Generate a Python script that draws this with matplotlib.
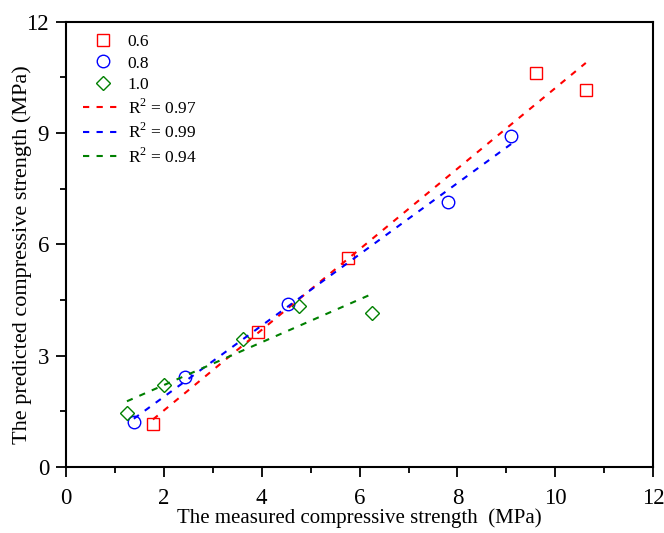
import numpy as np
import matplotlib.pyplot as plt
from matplotlib.ticker import MultipleLocator

plt.rcParams['font.family'] = ['Liberation Serif', 'DejaVu Serif']
plt.rcParams['mathtext.fontset'] = 'custom'
plt.rcParams['mathtext.rm'] = 'Liberation Serif'

# measured vs predicted strength (MPa)
x06 = [1.78, 3.92, 5.77, 9.61, 10.62]
y06 = [1.15, 3.65, 5.62, 10.62, 10.15]
x08 = [1.39, 2.43, 4.53, 7.80, 9.10]
y08 = [1.20, 2.42, 4.40, 7.15, 8.92]
x10 = [1.25, 2.00, 3.61, 4.77, 6.26]
y10 = [1.45, 2.20, 3.45, 4.33, 4.15]

groups = ['0.6', '0.8', '1.0']
r2 = ['0.97', '0.99', '0.94']
colors = ['red', 'blue', 'green']
markers = ['s', 'o', 'D']
msizes = [8, 9, 7.5]

fig = plt.figure(figsize=(6.64, 5.33), dpi=100)
ax = fig.add_axes([0.099, 0.124, 0.885, 0.835])

data = [(x06, y06), (x08, y08), (x10, y10)]
pts = []
for (x, y), c, m, ms, g in zip(data, colors, markers, msizes, groups):
    h, = ax.plot(x, y, linestyle='none', marker=m, ms=ms, mfc='none', mec=c, mew=1.0, label=g)
    pts.append(h)

fits = []
for (x, y), c, r in zip(data, colors, r2):
    k, b = np.polyfit(x, y, 1)
    xx = np.array([min(x), max(x)])
    h, = ax.plot(xx, k * xx + b, color=c, lw=1.5, dashes=(3, 3.5), label='R$^2$ = ' + r)
    fits.append(h)

ax.set_xlim(0, 12)
ax.set_ylim(0, 12)
ax.xaxis.set_major_locator(MultipleLocator(2))
ax.xaxis.set_minor_locator(MultipleLocator(1))
ax.yaxis.set_major_locator(MultipleLocator(3))
ax.yaxis.set_minor_locator(MultipleLocator(1.5))
ax.tick_params(which='both', direction='out', width=1.3, labelsize=16.5)
ax.tick_params(which='major', length=7)
ax.tick_params(which='minor', length=4)
ax.tick_params(axis='x', pad=8)
ax.tick_params(axis='y', pad=5)
for s in ax.spines.values():
    s.set_linewidth(1.5)

ax.set_xlabel('The measured compressive strength  (MPa)', fontsize=15, labelpad=0)
ax.set_ylabel('The predicted compressive strength (MPa)', fontsize=16)
ax.yaxis.set_label_coords(-0.057, 0.476)

ax.legend(handles=pts + fits, loc='upper left', frameon=False, fontsize=12.5,
          labelspacing=0.3, handlelength=2.3, handletextpad=0.3,
          borderaxespad=0.3, bbox_to_anchor=(0.008, 1.0))

plt.savefig('out.png', dpi=100)
